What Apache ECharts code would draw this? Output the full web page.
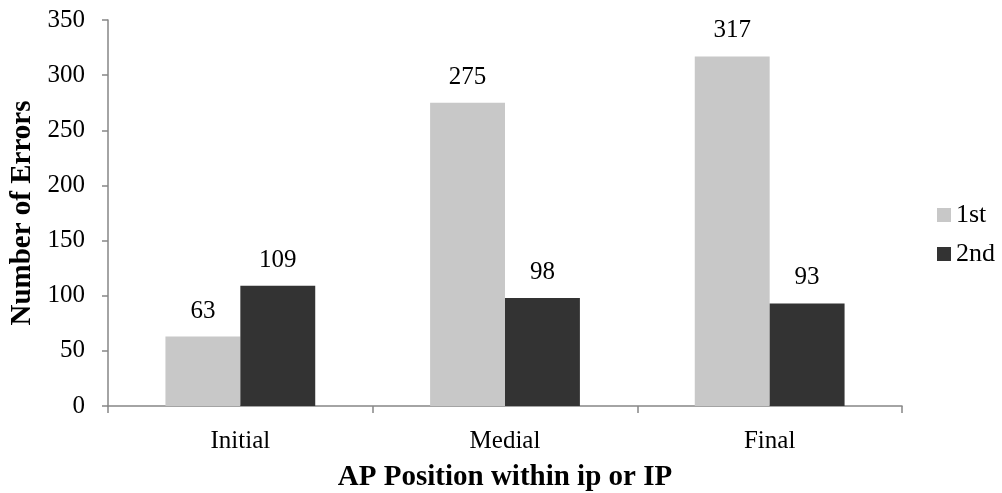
<!DOCTYPE html>
<html><head><meta charset="utf-8">
<script src="https://cdn.jsdelivr.net/npm/echarts@6/dist/echarts.min.js"></script>
<style>html,body{margin:0;padding:0;background:#fff}#c{width:1002px;height:493px}</style>
</head><body><div id="c"></div>
<script>
var categories = ['Initial', 'Medial', 'Final'];
var first = [63, 275, 317];
var second = [109, 98, 93];
var seriesNames = ['1st', '2nd'];
var font = '"Liberation Serif", "Times New Roman", serif';
var chart = echarts.init(document.getElementById('c'));
chart.setOption({
  animation: false,
  backgroundColor: '#fff',
  grid: {left: 108, right: 100, top: 20, bottom: 87, containLabel: false, outerBoundsMode: 'none'},
  legend: {
    orient: 'vertical', left: 932, top: 197,
    itemWidth: 14, itemHeight: 14, itemGap: 13,
    icon: 'rect',
    textStyle: {fontFamily: font, fontSize: 26, color: '#000', padding: [0,0,0,0]},
    data: seriesNames
  },
  xAxis: {
    type: 'category', data: categories,
    name: 'AP Position within ip or IP', nameLocation: 'middle', nameGap: 57,
    nameTextStyle: {fontFamily: font, fontSize: 29, fontWeight: 'bold', color: '#000'},
    axisLine: {lineStyle: {color: '#868686', width: 1.5}},
    axisTick: {show: true, length: 7, lineStyle: {color: '#868686', width: 1.5}},
    axisLabel: {fontFamily: font, fontSize: 25, color: '#000', margin: 23}
  },
  yAxis: {
    type: 'value', min: 0, max: 350, interval: 50,
    name: 'Number of Errors', nameLocation: 'middle', nameGap: 67,
    nameTextStyle: {fontFamily: font, fontSize: 29, fontWeight: 'bold', color: '#000'},
    axisLine: {show: true, lineStyle: {color: '#868686', width: 1.5}},
    axisTick: {show: true, length: 6, lineStyle: {color: '#868686', width: 1.5}},
    splitLine: {show: false},
    axisLabel: {fontFamily: font, fontSize: 25, color: '#000', margin: 23}
  },
  series: [
    {name: seriesNames[0], type: 'bar', data: first, barWidth: '28.3%', barGap: '0%',
     itemStyle: {color: '#c8c8c8'},
     label: {show: true, position: 'top', distance: 13, fontFamily: font, fontSize: 25, color: '#000'}},
    {name: seriesNames[1], type: 'bar', data: second, barWidth: '28.3%', barGap: '0%',
     itemStyle: {color: '#333333'},
     label: {show: true, position: 'top', distance: 13, fontFamily: font, fontSize: 25, color: '#000'}}
  ]
});
</script></body></html>
